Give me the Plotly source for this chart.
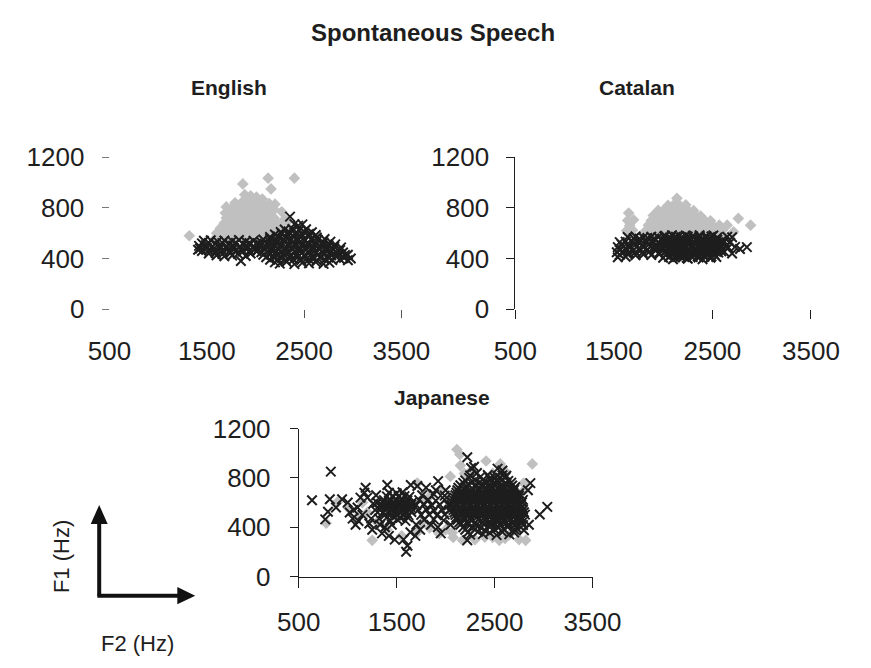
import plotly.graph_objects as go

# ---- formant tokens: (F2 Hz, F1 Hz) ----
english_grey = [
    (1320, 580), (1870, 990), (2130, 1035), (2160, 950), (2400, 1035),
    (1890, 905), (1950, 895), (2010, 885), (2070, 870),
    (1790, 840), (1860, 845), (1930, 850), (2000, 838), (2070, 842), (2140, 835), (2200, 830),
    (1700, 808), (1760, 800), (1830, 795), (1900, 805), (1970, 800), (2040, 795), (2110, 802), (2190, 790),
    (1690, 760), (1750, 765), (1820, 755), (1880, 762), (1950, 758), (2020, 764), (2090, 756), (2160, 760), (2270, 770),
    (1700, 720), (1770, 725), (1840, 716), (1910, 722), (1980, 718), (2050, 724), (2120, 716), (2190, 722), (2300, 710),
    (1680, 680), (1740, 684), (1810, 676), (1880, 682), (1950, 678), (2020, 684), (2090, 676), (2160, 682), (2230, 678), (2330, 693),
    (1640, 640), (1710, 644), (1780, 636), (1850, 642), (1920, 638), (1990, 644), (2060, 636), (2130, 642), (2200, 638), (2270, 644), (2340, 636),
    (1600, 600), (1670, 604), (1740, 596), (1810, 602), (1880, 598), (1950, 604), (2020, 596), (2090, 602), (2160, 598), (2230, 604), (2300, 596), (2430, 594),
    (1590, 560), (1680, 565), (1770, 556), (1860, 562), (1950, 558), (2040, 564), (2130, 556), (2220, 562),
]

english_black = [
    # lower-F2 lobe
    (1470, 540), (1540, 545), (1610, 536), (1680, 542), (1760, 538), (1830, 546), (1900, 535), (1980, 541),
    (1450, 520), (1520, 524), (1590, 516), (1660, 522), (1730, 518), (1800, 524), (1870, 516), (1940, 522), (2010, 518),
    (1420, 500), (1490, 505), (1560, 496), (1630, 502), (1700, 498), (1770, 504), (1840, 496), (1910, 502), (1980, 498), (2050, 504),
    (1430, 480), (1500, 484), (1570, 476), (1640, 482), (1710, 478), (1780, 484), (1850, 476), (1920, 482), (1990, 478),
    (1450, 460), (1520, 465), (1590, 456), (1660, 462), (1730, 458), (1800, 464), (1870, 456), (1940, 462), (2010, 458),
    (1520, 440), (1590, 444), (1660, 436), (1740, 442), (1820, 438), (1950, 440),
    (1600, 425), (1680, 418), (1760, 424), (1900, 420), (1850, 380), (1410, 470),
    # higher-F2 lobe
    (2355, 731), (2482, 670), (2400, 672), (2440, 660),
    (2300, 630), (2380, 634), (2450, 626), (2520, 632),
    (2260, 610), (2340, 614), (2420, 606), (2500, 612), (2580, 608),
    (2200, 590), (2270, 594), (2340, 586), (2410, 592), (2480, 588), (2550, 594), (2620, 586),
    (2150, 570), (2230, 574), (2310, 566), (2390, 572), (2470, 568), (2550, 574), (2630, 566),
    (2080, 550), (2150, 554), (2220, 546), (2290, 552), (2360, 548), (2430, 554), (2500, 546), (2570, 552), (2640, 548), (2710, 554),
    (2060, 530), (2140, 534), (2220, 526), (2300, 532), (2380, 528), (2460, 534), (2540, 526), (2620, 532), (2700, 528), (2770, 534),
    (2050, 510), (2120, 514), (2190, 506), (2260, 512), (2330, 508), (2400, 514), (2470, 506), (2540, 512), (2610, 508), (2680, 514), (2750, 506), (2820, 512),
    (2040, 490), (2110, 494), (2180, 486), (2250, 492), (2320, 488), (2390, 494), (2460, 486), (2530, 492), (2600, 488), (2670, 494), (2740, 486), (2810, 492), (2880, 488),
    (2030, 470), (2100, 474), (2170, 466), (2240, 472), (2310, 468), (2380, 474), (2450, 466), (2520, 472), (2590, 468), (2660, 474), (2730, 466), (2800, 472), (2870, 468),
    (2060, 450), (2130, 454), (2200, 446), (2270, 452), (2340, 448), (2410, 454), (2480, 446), (2550, 452), (2620, 448), (2690, 454), (2760, 446), (2830, 452), (2900, 448),
    (2080, 430), (2150, 434), (2220, 426), (2290, 432), (2360, 428), (2430, 434), (2500, 426), (2570, 432), (2640, 428), (2710, 434), (2780, 426), (2850, 432), (2920, 428),
    (2110, 410), (2190, 414), (2270, 406), (2350, 412), (2430, 408), (2510, 414), (2590, 406), (2670, 412), (2750, 408), (2830, 414), (2910, 406),
    (2150, 390), (2230, 394), (2310, 386), (2390, 392), (2470, 388), (2550, 394), (2630, 386), (2710, 392), (2790, 388), (2870, 394), (2950, 386),
    (2200, 370), (2320, 374), (2480, 366), (2620, 372), (2760, 368),
    (2250, 360), (2400, 356), (2550, 362), (2700, 358), (2980, 400), (2950, 430),
]

catalan_grey = [
    (2140, 876),
    (2050, 820), (2110, 826), (2170, 818), (2230, 824),
    (1950, 780), (2010, 786), (2070, 778), (2130, 784), (2190, 776), (2250, 782), (2310, 778),
    (1650, 760), (1900, 740), (1960, 746), (2020, 738), (2080, 744), (2140, 736), (2200, 742), (2260, 738), (2320, 744), (2380, 736),
    (1640, 700), (1700, 706), (1880, 700), (1940, 706), (2000, 698), (2060, 704), (2120, 696), (2180, 702), (2240, 698),
    (2300, 704), (2360, 696), (2420, 702), (2480, 698), (2763, 717),
    (1660, 660), (1850, 664), (1910, 656), (1970, 662), (2030, 658), (2090, 664), (2150, 656), (2210, 662), (2270, 658),
    (2330, 664), (2390, 656), (2450, 662), (2510, 658), (2570, 664), (2650, 664), (2888, 664),
    (1630, 620), (1690, 624), (1820, 616), (1880, 622), (1940, 618), (2000, 624), (2060, 616), (2120, 622), (2180, 618),
    (2240, 624), (2300, 616), (2360, 622), (2420, 618), (2480, 624), (2540, 616), (2600, 622), (2715, 611),
    (1660, 590), (1800, 592), (1900, 588), (2000, 592), (2100, 588), (2200, 592), (2300, 588), (2400, 592), (2500, 588), (2600, 592),
]

catalan_black = [
    (1640, 570), (1720, 574), (1800, 566), (1880, 572), (1950, 568), (2010, 574), (2070, 566), (2130, 572), (2190, 568),
    (2250, 574), (2310, 566), (2370, 572), (2430, 568), (2490, 574), (2550, 566), (2650, 572), (2700, 568),
    (2020, 580), (2090, 584), (2160, 576), (2230, 582), (2300, 578), (2370, 584), (2440, 576), (2510, 582),
    (1700, 560), (1760, 556), (1840, 562), (1910, 558),
    (1990, 550), (2060, 554), (2130, 546), (2200, 552), (2270, 548), (2340, 554), (2410, 546), (2480, 552), (2550, 548),
    (2030, 540), (2100, 544), (2170, 536), (2240, 542), (2310, 538), (2380, 544), (2450, 536), (2520, 542), (2590, 538),
    (1560, 530), (1620, 534), (1690, 526), (1760, 532), (1830, 528), (1900, 534), (1960, 526), (2020, 532), (2080, 528),
    (2140, 534), (2200, 526), (2260, 532), (2320, 528), (2380, 534), (2440, 526), (2500, 532), (2560, 528), (2620, 534), (2680, 526),
    (1580, 510), (1650, 506), (1720, 512), (1790, 508), (1860, 514), (1920, 506),
    (1970, 510), (2040, 514), (2110, 506), (2180, 512), (2250, 508), (2320, 514), (2390, 506), (2460, 512), (2530, 508), (2600, 514),
    (2010, 500), (2080, 504), (2150, 496), (2220, 502), (2290, 498), (2360, 504), (2430, 496), (2500, 502), (2570, 498), (2640, 504),
    (1540, 490), (1600, 494), (1660, 486), (1730, 492), (1800, 488), (1870, 494), (1930, 486), (1990, 492), (2050, 488),
    (2110, 494), (2170, 486), (2230, 492), (2290, 488), (2350, 494), (2410, 486), (2470, 492), (2530, 488), (2590, 494),
    (2660, 486), (2730, 492), (2780, 475), (2850, 490),
    (1560, 470), (1630, 474), (1700, 466), (1770, 472), (1840, 468), (1910, 474),
    (1990, 470), (2060, 474), (2130, 466), (2200, 472), (2270, 468), (2340, 474), (2410, 466), (2480, 472), (2550, 468),
    (2030, 460), (2100, 464), (2170, 456), (2240, 462), (2310, 458), (2380, 464), (2450, 456), (2520, 462), (2590, 458),
    (1530, 450), (1590, 454), (1650, 446), (1720, 452), (1790, 448), (1860, 454), (1960, 446), (2020, 452), (2080, 448),
    (2140, 454), (2200, 446), (2260, 452), (2320, 448), (2380, 454), (2440, 446), (2500, 452), (2560, 448), (2620, 454), (2700, 440),
    (1560, 430), (1640, 434), (1720, 426), (1800, 432), (1880, 428), (1960, 434),
    (2030, 430), (2100, 434), (2170, 426), (2240, 432), (2310, 428), (2380, 434), (2450, 426), (2520, 432),
    (2070, 420), (2140, 424), (2210, 416), (2280, 422), (2350, 418), (2420, 424), (2490, 416),
    (1540, 410), (1620, 414), (2000, 406), (2060, 412), (2120, 408), (2180, 414), (2240, 406), (2300, 412), (2360, 408),
    (2420, 414), (2480, 406), (2540, 412), (2100, 395), (2250, 398), (2400, 394),
]

japanese_grey = [
    (2115, 1030), (2145, 990), (2885, 913), (2817, 294), (1250, 294), (780, 433), (895, 603),
    (2548, 294), (2413, 937), (2558, 913), (2077, 317), (1836, 395), (1711, 395), (1933, 348),
    (2067, 356), (2173, 294), (2481, 317), (2606, 310), (2740, 371), (2048, 812), (2192, 836),
    (2481, 836), (2798, 758), (1711, 758), (1779, 619), (1836, 650), (1000, 560), (1100, 480),
    (1300, 440), (1400, 380), (1550, 330), (1700, 350), (2000, 380), (2300, 300), (2400, 320),
    (2650, 340), (2750, 300), (2250, 850), (2600, 860), (1950, 700), (1600, 620), (1450, 560),
    (1200, 520), (2150, 900), (2350, 760), (2800, 700), (1150, 600), (1760, 440), (2020, 640),
]

japanese_black = [
    # scattered low-F2 tokens
    (635, 619), (827, 851), (770, 464), (798, 526), (817, 627), (942, 627), (880, 560),
    (1000, 600), (1020, 520), (1050, 470), (1080, 420), (1100, 560), (1150, 500), (1183, 720),
    (1200, 640), (1220, 430), (1250, 380), (1280, 540), (1300, 600), (1320, 470), (1350, 350),
    (1380, 400), (1404, 743), (1420, 330), (1450, 420), (1480, 300), (1130, 640), (1060, 540),
    (1170, 680), (1240, 470), (1290, 660), (1110, 450), (1260, 590), (1330, 420),
    # cluster around 1500 Hz
    (1420, 680), (1500, 676), (1560, 684),
    (1400, 650), (1460, 654), (1520, 646), (1580, 652), (1630, 648),
    (1370, 620), (1430, 624), (1490, 616), (1550, 622), (1610, 618),
    (1360, 600), (1420, 604), (1480, 596), (1540, 602), (1600, 598), (1660, 604),
    (1350, 580), (1410, 584), (1470, 576), (1530, 582), (1590, 578), (1650, 584),
    (1340, 560), (1400, 564), (1460, 556), (1520, 562), (1580, 558), (1640, 564),
    (1330, 540), (1390, 544), (1450, 536), (1510, 542), (1570, 538), (1630, 544),
    (1360, 520), (1420, 524), (1480, 516), (1540, 522), (1600, 518), (1650, 524),
    (1380, 500), (1440, 504), (1500, 496), (1560, 502), (1620, 498),
    (1400, 480), (1470, 484), (1540, 476), (1610, 482),
    (1430, 455), (1510, 460), (1590, 452),
    (1596, 201), (1610, 250), (1570, 300), (1640, 360), (1690, 330), (1700, 420),
    (1644, 743), (1711, 735), (1923, 774),
    # cluster around 1850 Hz
    (1760, 660), (1880, 668), (1990, 656),
    (1730, 620), (1820, 624), (1900, 616), (1990, 622),
    (1700, 580), (1780, 584), (1860, 576), (1940, 582), (2030, 578),
    (1720, 540), (1800, 544), (1880, 536), (1960, 542), (2040, 538),
    (1750, 500), (1830, 504), (1910, 496), (1990, 502),
    (1780, 460), (1880, 464), (1980, 456),
    (1950, 350), (1850, 420), (2000, 700), (1900, 700), (1800, 720), (2050, 420), (1740, 380), (1920, 400),
    # high-F2 mass
    (2221, 967), (2260, 880), (2320, 840), (2290, 890), (2530, 875), (2580, 860),
    (2250, 820), (2430, 824), (2530, 816), (2580, 822), (2620, 818),
    (2240, 800), (2350, 804), (2450, 796), (2500, 802), (2560, 798), (2610, 804),
    (2200, 780), (2300, 784), (2400, 776), (2460, 782), (2520, 778), (2580, 784), (2640, 776),
    (2180, 760), (2260, 764), (2340, 756), (2420, 762), (2490, 758), (2550, 764), (2610, 756), (2670, 762),
    (2150, 740), (2230, 744), (2310, 736), (2380, 742), (2440, 738), (2500, 744), (2560, 736), (2620, 742), (2680, 738),
    (2130, 720), (2200, 724), (2270, 716), (2340, 722), (2410, 718), (2470, 724), (2530, 716), (2590, 722), (2650, 718), (2710, 724),
    (2120, 700), (2190, 704), (2260, 696), (2330, 702), (2400, 698), (2460, 704), (2520, 696), (2580, 702), (2640, 698), (2700, 704),
    (2110, 680), (2180, 684), (2250, 676), (2320, 682), (2390, 678), (2450, 684), (2510, 676), (2570, 682), (2630, 678), (2690, 684), (2750, 676),
    (2100, 660), (2170, 664), (2240, 656), (2310, 662), (2380, 658), (2450, 664), (2510, 656), (2570, 662), (2630, 658), (2690, 664), (2750, 656),
    (2090, 640), (2160, 644), (2230, 636), (2300, 642), (2370, 638), (2440, 644), (2500, 636), (2560, 642), (2620, 638), (2680, 644), (2740, 636),
    (2080, 620), (2150, 624), (2220, 616), (2290, 622), (2360, 618), (2430, 624), (2490, 616), (2550, 622), (2610, 618), (2670, 624), (2730, 616), (2790, 622),
    (2070, 600), (2140, 604), (2210, 596), (2280, 602), (2350, 598), (2420, 604), (2480, 596), (2540, 602), (2600, 598), (2660, 604), (2720, 596), (2780, 602),
    (2060, 580), (2130, 584), (2200, 576), (2270, 582), (2340, 578), (2410, 584), (2470, 576), (2530, 582), (2590, 578), (2650, 584), (2710, 576), (2770, 582),
    (2070, 560), (2140, 564), (2210, 556), (2280, 562), (2350, 558), (2420, 564), (2480, 556), (2540, 562), (2600, 558), (2660, 564), (2720, 556), (2780, 562),
    (2080, 540), (2150, 544), (2220, 536), (2290, 542), (2360, 538), (2430, 544), (2490, 536), (2550, 542), (2610, 538), (2670, 544), (2730, 536), (2790, 542),
    (2090, 520), (2160, 524), (2230, 516), (2300, 522), (2370, 518), (2440, 524), (2500, 516), (2560, 522), (2620, 518), (2680, 524), (2740, 516), (2800, 522),
    (2100, 500), (2170, 504), (2240, 496), (2310, 502), (2380, 498), (2450, 504), (2510, 496), (2570, 502), (2630, 498), (2690, 504), (2750, 496), (2810, 502),
    (2110, 480), (2180, 484), (2250, 476), (2320, 482), (2390, 478), (2460, 484), (2520, 476), (2580, 482), (2640, 478), (2700, 484), (2760, 476),
    (2120, 460), (2190, 464), (2260, 456), (2330, 462), (2400, 458), (2470, 464), (2530, 456), (2590, 462), (2650, 458), (2710, 464), (2770, 456),
    (2140, 440), (2220, 444), (2300, 436), (2380, 442), (2460, 438), (2540, 444), (2620, 436), (2700, 442), (2780, 438),
    (2150, 420), (2230, 424), (2310, 416), (2390, 422), (2470, 418), (2550, 424), (2630, 416), (2710, 422), (2790, 418),
    (2180, 400), (2270, 404), (2360, 396), (2450, 402), (2540, 398), (2630, 404), (2720, 396),
    (2200, 380), (2300, 384), (2400, 376), (2500, 382), (2600, 378), (2700, 384), (2800, 376),
    (2230, 360), (2330, 364), (2450, 356), (2580, 362), (2700, 358),
    (2250, 340), (2380, 344), (2520, 336), (2650, 342),
    (2221, 294), (2961, 503), (3038, 565), (2865, 758), (2840, 700), (2850, 420),
]

x_ticks = [500, 1500, 2500, 3500]
y_ticks = [0, 400, 800, 1200]

W, H = 871, 668
FONT = "Liberation Sans, Arial, sans-serif"
INK = "#1e1e1e"
GREY = "#c0c0c0"


def px(x):
    return x / W


def py(y):
    return 1 - y / H


fig = go.Figure()


def add_pair(points_grey, points_black, xa, ya):
    fig.add_trace(go.Scatter(
        x=[p[0] for p in points_grey], y=[p[1] for p in points_grey],
        mode="markers", xaxis=xa, yaxis=ya, showlegend=False, hoverinfo="skip",
        marker=dict(symbol="diamond", size=9, color=GREY, line=dict(width=0)),
    ))
    fig.add_trace(go.Scatter(
        x=[p[0] for p in points_black], y=[p[1] for p in points_black],
        mode="markers", xaxis=xa, yaxis=ya, showlegend=False, hoverinfo="skip",
        marker=dict(symbol="x-thin", size=9.5, color=INK, line=dict(width=2, color=INK)),
    ))


add_pair(english_grey, english_black, "x", "y")
add_pair(catalan_grey, catalan_black, "x2", "y2")
add_pair(japanese_grey, japanese_black, "x3", "y3")

tickfont = dict(family=FONT, size=26, color=INK)

# plot-area pixel boxes: (left, right, top, bottom)
boxes = {
    1: (93, 403, 149, 308),
    2: (524, 838, 149, 308),
    3: (294, 606, 433, 588),
}


def xdom(b):
    return [px(b[0]), px(b[1])]


def ydom(b):
    return [py(b[3]), py(b[2])]


common_x = dict(range=[500, 3500], tickvals=x_ticks, tickfont=tickfont,
                showgrid=False, zeroline=False, fixedrange=True)
common_y = dict(range=[0, 1200], tickvals=y_ticks, tickfont=tickfont,
                showgrid=False, zeroline=False, fixedrange=True)

fig.update_layout(
    xaxis=dict(common_x, domain=xdom(boxes[1]), anchor="y", showline=False,
               ticks="", ticklabelstandoff=24),
    yaxis=dict(common_y, domain=ydom(boxes[1]), anchor="x", showline=False,
               ticks="outside", ticklen=7, tickwidth=1, tickcolor="#777",
               ticklabelstandoff=12),
    xaxis2=dict(common_x, domain=xdom(boxes[2]), anchor="y2", showline=False,
                ticks="", ticklabelstandoff=24),
    yaxis2=dict(common_y, domain=ydom(boxes[2]), anchor="x2", showline=True,
                linecolor=INK, linewidth=1, ticks="outside", ticklen=8,
                tickwidth=1, tickcolor=INK, ticklabelstandoff=12),
    xaxis3=dict(common_x, domain=xdom(boxes[3]), anchor="y3", showline=True,
                linecolor=INK, linewidth=1, ticks="outside", ticklen=10,
                tickwidth=1, tickcolor=INK, ticklabelstandoff=12),
    yaxis3=dict(common_y, domain=ydom(boxes[3]), anchor="x3", showline=True,
                linecolor=INK, linewidth=1, ticks="outside", ticklen=8,
                tickwidth=1, tickcolor=INK, ticklabelstandoff=14),
    # tick marks only (no labels) for the two upper panels
    xaxis4=dict(range=[500, 3500], tickvals=[2500, 3500], domain=xdom(boxes[1]),
                overlaying="x", anchor="y", showticklabels=False, showline=False,
                ticks="outside", ticklen=8, tickwidth=1, tickcolor="#555",
                showgrid=False, zeroline=False, fixedrange=True),
    xaxis5=dict(range=[500, 3500], tickvals=[500, 2500, 3500], domain=xdom(boxes[2]),
                overlaying="x2", anchor="y2", showticklabels=False, showline=False,
                ticks="outside", ticklen=9, tickwidth=1, tickcolor=INK,
                showgrid=False, zeroline=False, fixedrange=True),
)

# empty carriers so the tick-only axes are drawn
fig.add_trace(go.Scatter(x=[], y=[], xaxis="x4", yaxis="y", showlegend=False))
fig.add_trace(go.Scatter(x=[], y=[], xaxis="x5", yaxis="y2", showlegend=False))

titles = [
    ("Spontaneous Speech", 437, 18, 24),
    ("English", 220, 76, 21),
    ("Catalan", 653, 76, 21),
    ("Japanese", 446, 400, 21),
]
annotations = []
for text, ax, ay, size in titles:
    annotations.append(dict(
        text=f"<b>{text}</b>", x=px(ax), y=py(ay), xref="paper", yref="paper",
        showarrow=False, xanchor="center", yanchor="middle",
        font=dict(family=FONT, size=size, color=INK),
    ))
annotations.append(dict(
    text="F1 (Hz)", x=px(42), y=py(567), xref="paper", yref="paper", textangle=-90,
    showarrow=False, xanchor="center", yanchor="middle",
    font=dict(family=FONT, size=22, color=INK),
))
annotations.append(dict(
    text="F2 (Hz)", x=px(123), y=py(658), xref="paper", yref="paper",
    showarrow=False, xanchor="center", yanchor="middle",
    font=dict(family=FONT, size=22, color=INK),
))

# axis-direction key: two arrows from a common corner
corner = (82, 608)
shapes = [
    dict(type="line", xref="paper", yref="paper", x0=px(corner[0]), y0=py(corner[1]),
         x1=px(corner[0]), y1=py(530), line=dict(color="#111", width=4)),
    dict(type="line", xref="paper", yref="paper", x0=px(corner[0] - 2), y0=py(corner[1]),
         x1=px(167), y1=py(corner[1]), line=dict(color="#111", width=4)),
    dict(type="path", xref="paper", yref="paper", fillcolor="#111", line=dict(width=0),
         path=(f"M {px(73)} {py(533)} L {px(82)} {py(513)} L {px(91)} {py(533)} Z")),
    dict(type="path", xref="paper", yref="paper", fillcolor="#111", line=dict(width=0),
         path=(f"M {px(165)} {py(599)} L {px(184)} {py(608)} L {px(165)} {py(617)} Z")),
]

fig.update_layout(
    width=W, height=H, margin=dict(l=0, r=0, t=0, b=0),
    paper_bgcolor="white", plot_bgcolor="white",
    annotations=annotations, shapes=shapes, showlegend=False,
)

fig.write_html("out.html", config={"displayModeBar": False})
